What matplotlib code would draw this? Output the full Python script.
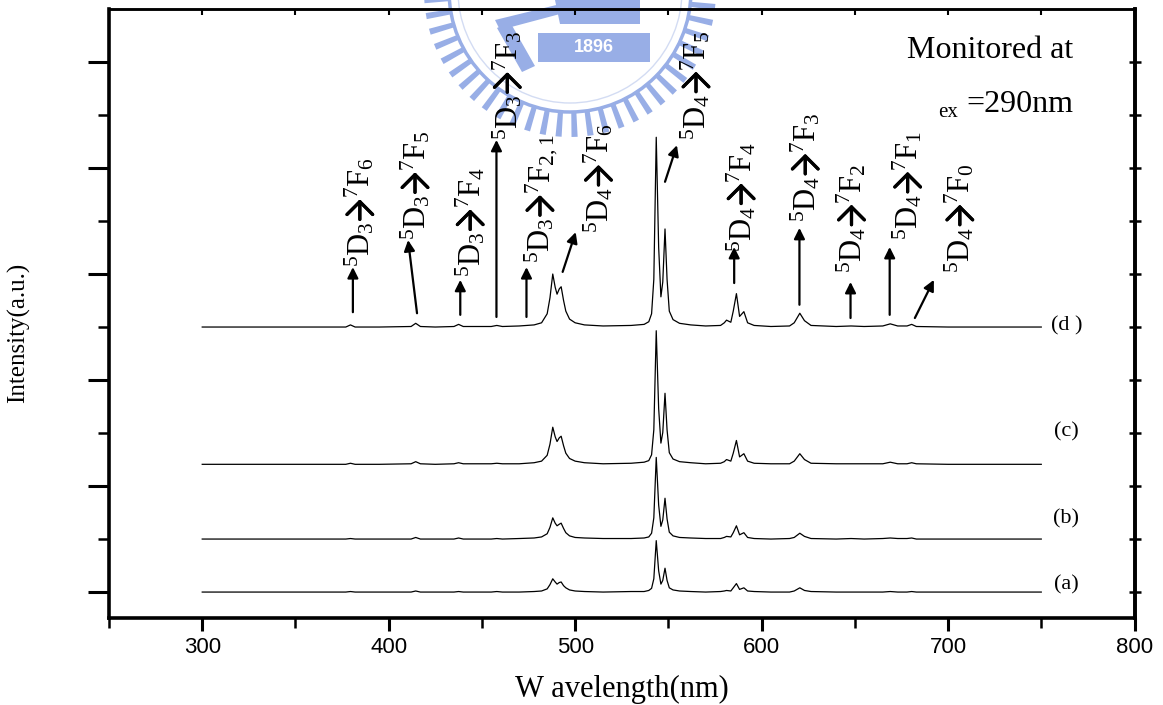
import matplotlib.pyplot as plt
import numpy as np
from matplotlib.patches import Circle, Rectangle, Polygon

plt.rcParams['font.family'] = ['Liberation Serif', 'DejaVu Serif']
plt.rcParams['mathtext.fontset'] = 'custom'
plt.rcParams['mathtext.rm'] = 'Liberation Serif'
plt.rcParams['mathtext.it'] = 'Liberation Serif:italic'

# wavelength sample points (nm)
wavelength = [300, 377, 379.5, 382, 395, 412, 414.5, 417, 425, 435, 437.5, 440,
              455, 458, 461, 470, 478, 482, 485, 486.5, 488, 489.3, 490.3, 491.5,
              492.5, 493.8, 495, 497, 500, 505, 515, 530, 537, 539.5, 541, 542.2,
              543.5, 544.8, 546, 547, 548.2, 549.3, 550.5, 552.5, 556, 562, 570,
              578, 580, 581.2, 583.5, 584.8, 586.5, 588.2, 590.5, 592.5, 596, 605,
              615, 617.5, 620.5, 623, 626.5, 640, 648, 655, 665, 669, 673, 678,
              680.5, 683, 700, 750]

# intensity above each baseline (one y tick = 1)
spec_d = [0, 0, 0.04, 0, 0, 0.01, 0.07, 0.01, 0, 0.01, 0.05, 0.01,
          0.01, 0.03, 0.01, 0.02, 0.04, 0.08, 0.25, 0.55, 1.0, 0.75, 0.62, 0.72,
          0.76, 0.5, 0.30, 0.15, 0.08, 0.04, 0.02, 0.03, 0.05, 0.10, 0.25, 0.9,
          3.58, 1.5, 0.57, 0.85, 1.85, 0.9, 0.3, 0.14, 0.07, 0.04, 0.02,
          0.03, 0.08, 0.13, 0.09, 0.3, 0.63, 0.2, 0.29, 0.08, 0.03, 0.01,
          0.02, 0.08, 0.26, 0.12, 0.03, 0.01, 0.02, 0.01, 0.02, 0.06, 0.02, 0.02,
          0.05, 0.01, 0, 0]
spec_c = [0, 0, 0.02, 0, 0, 0.01, 0.05, 0.01, 0, 0.01, 0.03, 0.01,
          0.01, 0.02, 0.01, 0.01, 0.03, 0.06, 0.17, 0.38, 0.70, 0.52, 0.43, 0.50,
          0.53, 0.35, 0.21, 0.11, 0.06, 0.03, 0.01, 0.02, 0.04, 0.07, 0.18, 0.65,
          2.52, 1.05, 0.40, 0.60, 1.34, 0.65, 0.22, 0.10, 0.05, 0.03, 0.01,
          0.02, 0.05, 0.09, 0.06, 0.21, 0.45, 0.14, 0.20, 0.06, 0.02, 0.01,
          0.01, 0.06, 0.20, 0.09, 0.02, 0.01, 0.01, 0.01, 0.01, 0.04, 0.01, 0.01,
          0.03, 0.01, 0, 0]
spec_b = [0, 0, 0.01, 0, 0, 0, 0.03, 0, 0, 0, 0.02, 0,
          0, 0.01, 0, 0.01, 0.02, 0.04, 0.10, 0.22, 0.40, 0.30, 0.25, 0.28,
          0.30, 0.20, 0.12, 0.06, 0.03, 0.02, 0.01, 0.01, 0.02, 0.04, 0.11, 0.40,
          1.54, 0.64, 0.24, 0.36, 0.77, 0.38, 0.13, 0.06, 0.03, 0.02, 0.01,
          0.01, 0.03, 0.05, 0.04, 0.12, 0.25, 0.08, 0.12, 0.03, 0.01, 0,
          0.01, 0.03, 0.11, 0.05, 0.01, 0, 0.01, 0, 0.01, 0.02, 0.01, 0.01,
          0.02, 0, 0, 0]
spec_a = [0, 0, 0.01, 0, 0, 0, 0.02, 0, 0, 0, 0.01, 0,
          0, 0.01, 0, 0, 0.01, 0.02, 0.06, 0.14, 0.25, 0.19, 0.15, 0.18,
          0.19, 0.12, 0.08, 0.04, 0.02, 0.01, 0, 0.01, 0.01, 0.03, 0.07, 0.25,
          0.97, 0.40, 0.15, 0.22, 0.45, 0.22, 0.08, 0.04, 0.02, 0.01, 0,
          0.01, 0.02, 0.03, 0.02, 0.08, 0.16, 0.05, 0.08, 0.02, 0.01, 0,
          0, 0.02, 0.08, 0.03, 0.01, 0, 0, 0, 0, 0.01, 0, 0,
          0.01, 0, 0, 0]
spectra = [spec_a, spec_b, spec_c, spec_d]
offsets = [0, 1.0, 2.41, 5.0]
sample_names = ['(a)', '(b)', '(c)', '(d )']
name_y = [0.14, 1.38, 3.02, 5.02]

# transitions: 5D level, 7F level, label centre x, label bottom y, arrow tail, arrow head
transitions = [
    ('3', '6', 384.6, 6.13, (380.8, 5.28), (380.8, 6.13)),
    ('3', '5', 414.2, 6.64, (415.2, 5.26), (410.4, 6.64)),
    ('3', '4', 443.8, 5.94, (438.4, 5.23), (438.4, 5.89)),
    ('3', '3', 463.7, 8.53, (457.8, 5.19), (457.8, 8.53)),
    ('3', '2,1', 482.0, 6.21, (473.9, 5.19), (473.9, 6.13)),
    ('4', '6', 512.6, 6.77, (493.3, 6.04), (500.3, 6.79)),
    ('4', '5', 564.9, 8.53, (548.2, 7.74), (554.6, 8.43)),
    ('4', '4', 589.1, 6.42, (585.3, 5.83), (585.3, 6.51)),
    ('4', '3', 623.5, 6.98, (620.3, 5.42), (620.3, 6.87)),
    ('4', '2', 648.3, 6.02, (647.7, 5.17), (647.7, 5.85)),
    ('4', '1', 678.4, 6.64, (668.7, 5.23), (668.7, 6.51)),
    ('4', '0', 706.4, 6.02, (682.2, 5.17), (692.4, 5.89)),
]

W, H = 1163, 705
fig = plt.figure(figsize=(W / 100, H / 100), dpi=100)
renderer = fig.canvas.get_renderer()

# faint university watermark behind the plot (pixel coordinates)
wm = fig.add_axes([0, 0, 1, 1], zorder=-1)
wm.set_xlim(0, W)
wm.set_ylim(H, 0)
wm.axis('off')
wm_col = '#98aee6'
cx, cy = 570, -9
for ang in np.arange(0, 360, 6.3):
    a = np.deg2rad(ang)
    if np.sin(a) < -0.1:
        continue
    r0, r1, hw = 120, 146, 0.021
    pts = [(cx + r0 * np.cos(a - hw), cy + r0 * np.sin(a - hw)),
           (cx + r1 * np.cos(a - hw), cy + r1 * np.sin(a - hw)),
           (cx + r1 * np.cos(a + hw), cy + r1 * np.sin(a + hw)),
           (cx + r0 * np.cos(a + hw), cy + r0 * np.sin(a + hw))]
    wm.add_patch(Polygon(pts, closed=True, color=wm_col, lw=0))
wm.add_patch(Circle((cx, cy), 121, fill=False, ec=wm_col, lw=2.5))
wm.add_patch(Circle((cx, cy), 112, fill=False, ec='#d3dcf3', lw=1.0))
wm.add_patch(Rectangle((538, 33), 112, 29, color=wm_col, lw=0))
wm.text(594, 48, '1896', color='white', fontsize=13, fontweight='bold',
        ha='center', va='center', family='Liberation Sans')
wm.add_patch(Polygon([(555, 0), (640, 0), (640, 24), (560, 24)], closed=True, color=wm_col, lw=0))
wm.add_patch(Polygon([(495, 20), (585, -2), (590, 6), (500, 30)], closed=True, color=wm_col, lw=0))
wm.add_patch(Polygon([(497, 28), (510, 22), (535, 66), (522, 72)], closed=True, color=wm_col, lw=0))

ax = fig.add_axes([109 / W, 1 - 617.5 / H, 1025.5 / W, 608.5 / H])
ax.set_facecolor('none')
ax.set_xlim(250, 800)
ax.set_ylim(-0.48, 11.0)

for spec, off in zip(spectra, offsets):
    ax.plot(wavelength, np.array(spec) + off, color='black', lw=0.9)

for name, yy in zip(sample_names, name_y):
    ax.text(763.5, yy, name, fontsize=16, ha='center', va='center')


def vertical_label(lx, ly, d, f, gap=22):
    # "5Dd", a bold open arrow, then "7Ff", reading bottom to top
    bx, by = ax.transData.transform((lx, ly))
    t1 = fig.text(bx / W, by / H, r'$^{5}\mathrm{D}_{%s}$' % d, rotation=90,
                  rotation_mode='anchor', ha='left', va='baseline', fontsize=22)
    b1 = t1.get_window_extent(renderer)
    y_arrow = b1.y1 + 1
    t2 = fig.text(bx / W, (y_arrow + gap) / H, r'$^{7}\mathrm{F}_{%s}$' % f, rotation=90,
                  rotation_mode='anchor', ha='left', va='baseline', fontsize=22)
    b2 = t2.get_window_extent(renderer)
    shift = bx - (min(b1.x0, b2.x0) + max(b1.x1, b2.x1)) / 2
    for t in (t1, t2):
        px, py = t.get_position()
        t.set_position((px + shift / W, py))
    xa = bx + shift - 10
    fig.add_artist(plt.annotate(
        '', xy=(xa, y_arrow + gap - 1), xytext=(xa, y_arrow + 1),
        xycoords='figure pixels', textcoords='figure pixels',
        arrowprops=dict(arrowstyle='->, head_length=0.42, head_width=0.42',
                        color='black', lw=2.3, mutation_scale=22,
                        shrinkA=0, shrinkB=0)))


for d, f, lx, ly, tail, head in transitions:
    vertical_label(lx, ly, d, f)
    ax.annotate('', xy=head, xytext=tail,
                arrowprops=dict(arrowstyle='-|>', color='black', lw=1.6,
                                mutation_scale=16, shrinkA=0, shrinkB=0))

fig.text(1073 / W, 1 - 58 / H, 'Monitored at', fontsize=23, ha='right', va='baseline')
fig.text(1073 / W, 1 - 112 / H, '=290nm', fontsize=23, ha='right', va='baseline')
fig.text(958 / W, 1 - 117 / H, 'ex', fontsize=15, ha='right', va='baseline')

ax.set_xticks([300, 400, 500, 600, 700, 800])
ax.set_xticks(np.arange(250, 801, 50), minor=True)
ax.set_xticklabels(['300', '400', '500', '600', '700', '800'],
                   family='Liberation Sans', fontsize=16)
ax.set_yticks([0, 2, 4, 6, 8, 10])
ax.set_yticks([1, 3, 5, 7, 9], minor=True)
ax.set_yticklabels([])
ax.tick_params(axis='x', which='major', direction='out', length=9, width=2.2, pad=5)
ax.tick_params(axis='x', which='minor', direction='out', length=7, width=1.8)
ax.tick_params(axis='y', which='major', direction='out', length=15, width=2.2)
ax.tick_params(axis='y', which='minor', direction='out', length=8, width=1.8)

ax.set_xlabel('W avelength(nm)', fontsize=22, labelpad=12)
fig.text(19 / W, 1 - 333 / H, 'Intensity(a.u.)', fontsize=18, rotation=90,
         ha='center', va='center')

for side in ['left', 'bottom', 'right']:
    ax.spines[side].set_linewidth(2.6)
ax.spines['top'].set_linewidth(1.8)

# small inward ticks on top and right edges
top = ax.secondary_xaxis('top')
top.set_xticks(np.arange(250, 801, 50))
top.set_xticklabels([])
top.tick_params(direction='in', length=4, width=1.5)
top.spines['top'].set_linewidth(1.8)
right = ax.secondary_yaxis('right')
right.set_yticks(np.arange(0, 11, 1))
right.set_yticklabels([])
right.tick_params(direction='inout', length=8, width=1.8)
right.spines['right'].set_linewidth(2.6)

plt.savefig('out.png', dpi=100)
plt.close()
